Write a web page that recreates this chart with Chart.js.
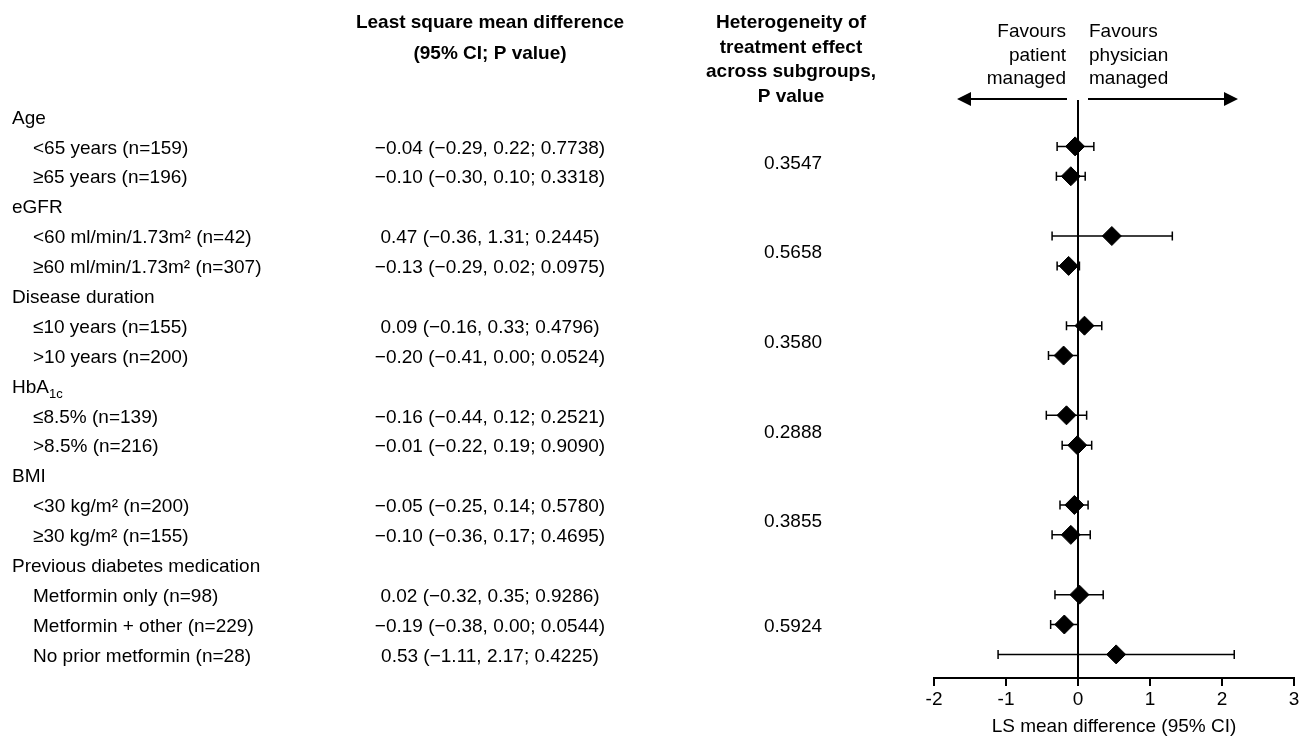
<!DOCTYPE html>
<html>
<head>
<meta charset="utf-8">
<script src="https://cdn.jsdelivr.net/npm/chart.js@4/dist/chart.umd.min.js"></script>
<style>
  body { margin: 0; background: #fff; }
  #wrap { width: 1309px; height: 741px; }
</style>
</head>
<body>
<div id="wrap"><canvas id="forest" width="1309" height="741"></canvas></div>
<script>
// subgroup categories
const groupNames = ["Age", "eGFR", "Disease duration", "HbA1c", "BMI", "Previous diabetes medication"];
const subgroupNames = [
  "<65 years (n=159)",
  "≥65 years (n=196)",
  "<60 ml/min/1.73m² (n=42)",
  "≥60 ml/min/1.73m² (n=307)",
  "≤10 years (n=155)",
  ">10 years (n=200)",
  "≤8.5% (n=139)",
  ">8.5% (n=216)",
  "<30 kg/m² (n=200)",
  "≥30 kg/m² (n=155)",
  "Metformin only (n=98)",
  "Metformin + other (n=229)",
  "No prior metformin (n=28)",
];
const subgroupOf = [0, 0, 1, 1, 2, 2, 3, 3, 4, 4, 5, 5, 5];

// LS mean difference with 95% CI and P value
const lsMean = [-0.04, -0.10, 0.47, -0.13, 0.09, -0.20, -0.16, -0.01, -0.05, -0.10, 0.02, -0.19, 0.53];
const ciLow = [-0.29, -0.30, -0.36, -0.29, -0.16, -0.41, -0.44, -0.22, -0.25, -0.36, -0.32, -0.38, -1.11];
const ciHigh = [0.22, 0.10, 1.31, 0.02, 0.33, 0.00, 0.12, 0.19, 0.14, 0.17, 0.35, 0.00, 2.17];
const pValue = ["0.7738", "0.3318", "0.2445", "0.0975", "0.4796", "0.0524", "0.2521", "0.9090", "0.5780", "0.4695", "0.9286", "0.0544", "0.4225"];

// heterogeneity P value per group
const heteroP = ["0.3547", "0.5658", "0.3580", "0.2888", "0.3855", "0.5924"];

// x axis ticks
const xTicks = [-2, -1, 0, 1, 2, 3];

// build the row order: group header then its subgroups
const rows = [];
const rowOfSub = [];
groupNames.forEach((g, gi) => {
  rows.push({ type: "group", gi });
  subgroupOf.forEach((grp, si) => {
    if (grp === gi) {
      rowOfSub[si] = rows.length;
      rows.push({ type: "sub", si });
    }
  });
});

const fmt = (v) => (v < 0 ? "\u2212" : "") + Math.abs(v).toFixed(2);

const FONT = "'Liberation Sans', Arial, sans-serif";
const TXT_DY = 2; // nudge text to sit on the row centre

const forestPlugin = {
  id: "forest",
  beforeDatasetsDraw(chart) {
    const { ctx, scales } = chart;
    const xs = scales.x, ys = scales.y;
    ctx.save();
    ctx.strokeStyle = "#000";
    ctx.lineWidth = 1.5;
    lsMean.forEach((m, si) => {
      const y = ys.getPixelForValue(rowOfSub[si]);
      const x1 = xs.getPixelForValue(ciLow[si]);
      const x2 = xs.getPixelForValue(ciHigh[si]);
      ctx.beginPath();
      ctx.moveTo(x1, y);
      ctx.lineTo(x2, y);
      ctx.moveTo(x1, y - 4.5);
      ctx.lineTo(x1, y + 4.5);
      ctx.moveTo(x2, y - 4.5);
      ctx.lineTo(x2, y + 4.5);
      ctx.stroke();
    });
    ctx.restore();
  },
  afterDraw(chart) {
    const { ctx, scales } = chart;
    const ys = scales.y;
    ctx.save();
    ctx.fillStyle = "#000";
    ctx.textBaseline = "middle";

    // column headers
    ctx.font = "bold 19px " + FONT;
    ctx.textAlign = "center";
    ctx.fillText("Least square mean difference", 490, 23);
    ctx.fillText("(95% CI; P value)", 490, 54);
    ["Heterogeneity of", "treatment effect", "across subgroups,", "P value"].forEach((t, i) => {
      ctx.fillText(t, 791, 23 + i * 24.6);
    });

    // favours labels
    ctx.font = "19px " + FONT;
    ctx.textAlign = "right";
    ["Favours", "patient", "managed"].forEach((t, i) => ctx.fillText(t, 1066, 32 + i * 23.5));
    ctx.textAlign = "left";
    ["Favours", "physician", "managed"].forEach((t, i) => ctx.fillText(t, 1089, 32 + i * 23.5));

    // arrows
    const ay = 99;
    ctx.strokeStyle = "#000";
    ctx.lineWidth = 2;
    ctx.beginPath();
    ctx.moveTo(1067, ay); ctx.lineTo(968, ay);
    ctx.moveTo(1088, ay); ctx.lineTo(1227, ay);
    ctx.stroke();
    ctx.beginPath();
    ctx.moveTo(957, ay); ctx.lineTo(971, ay - 7); ctx.lineTo(971, ay + 7); ctx.closePath();
    ctx.moveTo(1238, ay); ctx.lineTo(1224, ay - 7); ctx.lineTo(1224, ay + 7); ctx.closePath();
    ctx.fill();

    // row labels and estimates
    rows.forEach((r, i) => {
      const y = ys.getPixelForValue(i) + TXT_DY;
      ctx.textAlign = "left";
      ctx.font = "19px " + FONT;
      if (r.type === "group") {
        const name = groupNames[r.gi];
        if (name === "HbA1c") {
          ctx.fillText("HbA", 12, y);
          const w = ctx.measureText("HbA").width;
          ctx.font = "13px " + FONT;
          ctx.fillText("1c", 12 + w, y + 7);
        } else {
          ctx.fillText(name, 12, y);
        }
      } else {
        const si = r.si;
        ctx.fillText(subgroupNames[si], 33, y);
        ctx.textAlign = "center";
        ctx.fillText(fmt(lsMean[si]) + " (" + fmt(ciLow[si]) + ", " + fmt(ciHigh[si]) + "; " + pValue[si] + ")", 490, y);
      }
    });

    // heterogeneity values centred on each group's subgroup rows
    ctx.textAlign = "center";
    ctx.font = "19px " + FONT;
    heteroP.forEach((p, gi) => {
      const idx = rowOfSub.filter((_, si) => subgroupOf[si] === gi);
      const mid = idx.reduce((a, b) => a + b, 0) / idx.length;
      ctx.fillText(p, 793, ys.getPixelForValue(mid) + TXT_DY);
    });
    ctx.restore();
  },
};

new Chart(document.getElementById("forest"), {
  type: "scatter",
  data: {
    datasets: [
      {
        data: lsMean.map((m, si) => ({ x: m, y: rowOfSub[si] })),
        pointStyle: "rectRot",
        radius: 9.5,
        backgroundColor: "#000",
        borderColor: "#000",
        borderWidth: 1,
      },
    ],
  },
  options: {
    responsive: false,
    animation: false,
    layout: { padding: { left: 934, right: 15, top: 100, bottom: 5 } },
    plugins: { legend: { display: false }, tooltip: { enabled: false } },
    scales: {
      x: {
        type: "linear",
        min: xTicks[0],
        max: xTicks[xTicks.length - 1],
        afterBuildTicks: (s) => { s.ticks = xTicks.map((v) => ({ value: v })); },
        border: { display: true, color: "#000", width: 2 },
        grid: {
          drawOnChartArea: true,
          color: (c) => (c.tick && c.tick.value === 0 ? "#000" : "rgba(0,0,0,0)"),
          lineWidth: 2,
          tickColor: "#000",
          tickWidth: 2,
          tickLength: 8,
        },
        ticks: { color: "#000", padding: 4, font: { family: FONT, size: 19, lineHeight: 1 } },
        title: {
          display: true,
          text: "LS mean difference (95% CI)",
          color: "#000",
          padding: { top: 4, bottom: 0 },
          font: { family: FONT, size: 19, lineHeight: 1 },
        },
      },
      y: {
        type: "linear",
        display: false,
        reverse: true,
        min: -0.552,
        max: 18.79,
      },
    },
  },
  plugins: [forestPlugin],
});
</script>
</body>
</html>
